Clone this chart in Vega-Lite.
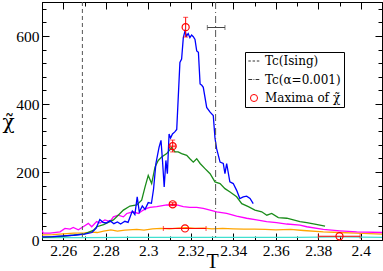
{
  "$schema": "https://vega.github.io/schema/vega-lite/v6.json",
  "width": 340,
  "height": 238,
  "autosize": {"type": "none"},
  "padding": {"left": 42, "top": 2, "right": 1, "bottom": 31},
  "background": "white",
  "config": {
    "view": {"stroke": "black", "strokeWidth": 1},
    "font": "Liberation Serif, DejaVu Serif, serif",
    "axis": {"domainColor": "black", "tickColor": "black", "labelColor": "black", "labelFont": "Liberation Serif, DejaVu Serif, serif", "labelFontSize": 15.5, "titleFont": "Liberation Serif, DejaVu Serif, serif", "titleFontWeight": "normal", "titleColor": "black", "grid": false},
    "legend": {"orient": "none", "legendX": 203, "legendY": 50, "fillColor": "white", "strokeColor": "black", "padding": 3, "labelFont": "DejaVu Serif", "labelFontSize": 12, "labelColor": "black", "labelOffset": 5, "rowPadding": 6.5, "symbolStrokeWidth": 1, "symbolSize": 50, "cornerRadius": 0}
  },
  "datasets": {
    "curves": [
      {"s":"c","T":2.25,"chi":7},{"s":"c","T":2.27,"chi":7},{"s":"c","T":2.29,"chi":8},{"s":"c","T":2.31,"chi":8},{"s":"c","T":2.33,"chi":8},{"s":"c","T":2.35,"chi":8},{"s":"c","T":2.37,"chi":8},{"s":"c","T":2.39,"chi":9},{"s":"c","T":2.41,"chi":8},
      {"s":"o","T":2.25,"chi":15},{"s":"o","T":2.255,"chi":16},{"s":"o","T":2.26,"chi":18},{"s":"o","T":2.265,"chi":20},{"s":"o","T":2.27,"chi":21},{"s":"o","T":2.2735,"chi":23},{"s":"o","T":2.276,"chi":22},{"s":"o","T":2.279,"chi":26},{"s":"o","T":2.2824,"chi":30},{"s":"o","T":2.2855,"chi":26},{"s":"o","T":2.289,"chi":29},{"s":"o","T":2.2946,"chi":31},{"s":"o","T":2.298,"chi":29},{"s":"o","T":2.302,"chi":33},{"s":"o","T":2.306,"chi":34},{"s":"o","T":2.31,"chi":33},{"s":"o","T":2.314,"chi":35},{"s":"o","T":2.318,"chi":36},{"s":"o","T":2.322,"chi":34},{"s":"o","T":2.326,"chi":35},{"s":"o","T":2.33,"chi":33},{"s":"o","T":2.335,"chi":34},{"s":"o","T":2.34,"chi":33},{"s":"o","T":2.345,"chi":32},{"s":"o","T":2.35,"chi":32},{"s":"o","T":2.355,"chi":31},{"s":"o","T":2.36,"chi":30},{"s":"o","T":2.367,"chi":31},{"s":"o","T":2.373,"chi":28},{"s":"o","T":2.3824,"chi":24},{"s":"o","T":2.39,"chi":22},{"s":"o","T":2.398,"chi":20},{"s":"o","T":2.41,"chi":17},
      {"s":"m","T":2.25,"chi":29},{"s":"m","T":2.2506,"chi":20},{"s":"m","T":2.2538,"chi":20},{"s":"m","T":2.2585,"chi":24},{"s":"m","T":2.2608,"chi":34},{"s":"m","T":2.2632,"chi":32},{"s":"m","T":2.2647,"chi":37},{"s":"m","T":2.2671,"chi":30},{"s":"m","T":2.2694,"chi":39},{"s":"m","T":2.2718,"chi":49},{"s":"m","T":2.2734,"chi":39},{"s":"m","T":2.2757,"chi":54},{"s":"m","T":2.2773,"chi":50},{"s":"m","T":2.2796,"chi":59},{"s":"m","T":2.282,"chi":54},{"s":"m","T":2.2836,"chi":68},{"s":"m","T":2.2859,"chi":73},{"s":"m","T":2.2883,"chi":68},{"s":"m","T":2.2899,"chi":78},{"s":"m","T":2.293,"chi":83},{"s":"m","T":2.2953,"chi":78},{"s":"m","T":2.2977,"chi":88},{"s":"m","T":2.2993,"chi":93},{"s":"m","T":2.3008,"chi":96},{"s":"m","T":2.304,"chi":98},{"s":"m","T":2.3087,"chi":103},{"s":"m","T":2.3134,"chi":103},{"s":"m","T":2.3165,"chi":98},{"s":"m","T":2.3196,"chi":96},{"s":"m","T":2.3228,"chi":96},{"s":"m","T":2.3259,"chi":93},{"s":"m","T":2.3291,"chi":88},{"s":"m","T":2.3322,"chi":83},{"s":"m","T":2.3369,"chi":78},{"s":"m","T":2.3416,"chi":70},{"s":"m","T":2.3463,"chi":64},{"s":"m","T":2.351,"chi":59},{"s":"m","T":2.3557,"chi":54},{"s":"m","T":2.3604,"chi":51},{"s":"m","T":2.3652,"chi":47},{"s":"m","T":2.3714,"chi":44},{"s":"m","T":2.3746,"chi":39},{"s":"m","T":2.3824,"chi":31},{"s":"m","T":2.3902,"chi":27},{"s":"m","T":2.3981,"chi":24},{"s":"m","T":2.41,"chi":22},
      {"s":"g","T":2.25,"chi":8},{"s":"g","T":2.26,"chi":11},{"s":"g","T":2.27,"chi":18},{"s":"g","T":2.2741,"chi":28},{"s":"g","T":2.2758,"chi":39},{"s":"g","T":2.279,"chi":45},{"s":"g","T":2.2836,"chi":59},{"s":"g","T":2.2867,"chi":78},{"s":"g","T":2.2883,"chi":88},{"s":"g","T":2.2914,"chi":100},{"s":"g","T":2.2946,"chi":103},{"s":"g","T":2.2969,"chi":117},{"s":"g","T":2.2985,"chi":156},{"s":"g","T":2.3,"chi":190},{"s":"g","T":2.3016,"chi":166},{"s":"g","T":2.3032,"chi":215},{"s":"g","T":2.3047,"chi":234},{"s":"g","T":2.3063,"chi":244},{"s":"g","T":2.3087,"chi":254},{"s":"g","T":2.311,"chi":272},{"s":"g","T":2.3126,"chi":259},{"s":"g","T":2.3141,"chi":259},{"s":"g","T":2.3157,"chi":254},{"s":"g","T":2.3181,"chi":249},{"s":"g","T":2.3196,"chi":239},{"s":"g","T":2.3212,"chi":229},{"s":"g","T":2.3228,"chi":239},{"s":"g","T":2.3244,"chi":225},{"s":"g","T":2.3267,"chi":210},{"s":"g","T":2.3291,"chi":195},{"s":"g","T":2.3314,"chi":171},{"s":"g","T":2.3338,"chi":166},{"s":"g","T":2.3361,"chi":151},{"s":"g","T":2.3385,"chi":141},{"s":"g","T":2.3416,"chi":127},{"s":"g","T":2.344,"chi":107},{"s":"g","T":2.3471,"chi":98},{"s":"g","T":2.3502,"chi":88},{"s":"g","T":2.3534,"chi":83},{"s":"g","T":2.3558,"chi":73},{"s":"g","T":2.3581,"chi":78},{"s":"g","T":2.3612,"chi":66},{"s":"g","T":2.3652,"chi":64},{"s":"g","T":2.3683,"chi":59},{"s":"g","T":2.3714,"chi":54},{"s":"g","T":2.3746,"chi":51},{"s":"g","T":2.379,"chi":46},{"s":"g","T":2.3832,"chi":41},
      {"s":"b","T":2.25,"chi":9},{"s":"b","T":2.255,"chi":10},{"s":"b","T":2.26,"chi":12},{"s":"b","T":2.265,"chi":14},{"s":"b","T":2.27,"chi":17},{"s":"b","T":2.2735,"chi":22},{"s":"b","T":2.2755,"chi":35},{"s":"b","T":2.2772,"chi":60},{"s":"b","T":2.2787,"chi":52},{"s":"b","T":2.2803,"chi":50},{"s":"b","T":2.282,"chi":57},{"s":"b","T":2.2838,"chi":48},{"s":"b","T":2.2855,"chi":53},{"s":"b","T":2.287,"chi":47},{"s":"b","T":2.289,"chi":55},{"s":"b","T":2.2905,"chi":52},{"s":"b","T":2.2925,"chi":85},{"s":"b","T":2.2937,"chi":75},{"s":"b","T":2.2948,"chi":127},{"s":"b","T":2.2958,"chi":82},{"s":"b","T":2.2972,"chi":100},{"s":"b","T":2.2985,"chi":90},{"s":"b","T":2.3,"chi":110},{"s":"b","T":2.3015,"chi":108},{"s":"b","T":2.3025,"chi":150},{"s":"b","T":2.3036,"chi":225},{"s":"b","T":2.3051,"chi":273},{"s":"b","T":2.306,"chi":293},{"s":"b","T":2.3067,"chi":234},{"s":"b","T":2.3075,"chi":156},{"s":"b","T":2.3083,"chi":234},{"s":"b","T":2.309,"chi":195},{"s":"b","T":2.3098,"chi":312},{"s":"b","T":2.3105,"chi":300},{"s":"b","T":2.3114,"chi":312},{"s":"b","T":2.3125,"chi":318},{"s":"b","T":2.3134,"chi":325},{"s":"b","T":2.3149,"chi":522},{"s":"b","T":2.3157,"chi":532},{"s":"b","T":2.3165,"chi":595},{"s":"b","T":2.3173,"chi":615},{"s":"b","T":2.318,"chi":600},{"s":"b","T":2.3188,"chi":607},{"s":"b","T":2.3196,"chi":595},{"s":"b","T":2.3204,"chi":603},{"s":"b","T":2.3212,"chi":598},{"s":"b","T":2.322,"chi":590},{"s":"b","T":2.3228,"chi":556},{"s":"b","T":2.3236,"chi":552},{"s":"b","T":2.3244,"chi":459},{"s":"b","T":2.3252,"chi":455},{"s":"b","T":2.3259,"chi":449},{"s":"b","T":2.3275,"chi":390},{"s":"b","T":2.3291,"chi":376},{"s":"b","T":2.3306,"chi":366},{"s":"b","T":2.3314,"chi":300},{"s":"b","T":2.3322,"chi":268},{"s":"b","T":2.3338,"chi":229},{"s":"b","T":2.3353,"chi":225},{"s":"b","T":2.3361,"chi":195},{"s":"b","T":2.3369,"chi":225},{"s":"b","T":2.3384,"chi":171},{"s":"b","T":2.34,"chi":166},{"s":"b","T":2.3416,"chi":146},{"s":"b","T":2.3431,"chi":122},{"s":"b","T":2.3447,"chi":127},{"s":"b","T":2.3463,"chi":129},{"s":"b","T":2.3479,"chi":122},{"s":"b","T":2.3494,"chi":107}
    ],
    "maxima": [
      {"T":2.3176,"chi":626,"lab":"Maxima of χ̃"},
      {"T":2.3115,"chi":276,"lab":"Maxima of χ̃"},
      {"T":2.3115,"chi":105,"lab":"Maxima of χ̃"},
      {"T":2.3173,"chi":34,"lab":"Maxima of χ̃"},
      {"T":2.39,"chi":11,"lab":"Maxima of χ̃"}
    ],
    "verr": [
      {"T":2.3176,"lo":597,"hi":655},
      {"T":2.3115,"lo":259,"hi":294},
      {"T":2.3115,"lo":101,"hi":110}
    ],
    "herr": [
      {"chi":276,"lo":2.3103,"hi":2.3127},
      {"chi":105,"lo":2.3100,"hi":2.3130},
      {"chi":34,"lo":2.3071,"hi":2.3272},
      {"chi":11,"lo":2.38,"hi":2.3997}
    ],
    "tcerr": [{"chi":625,"lo":2.3278,"hi":2.3361}],
    "vlines": [{"T":2.269,"k":"ising"},{"T":2.3317,"k":"alpha"}]
  },
  "layer": [
    {
      "data": {"name": "curves"},
      "mark": {"type": "line", "strokeWidth": 1.3, "clip": true},
      "encoding": {
        "x": {"field": "T", "type": "quantitative", "scale": {"domain": [2.25, 2.41], "nice": false, "zero": false},
          "axis": {"orient": "bottom", "values": [2.25,2.26,2.27,2.28,2.29,2.3,2.31,2.32,2.33,2.34,2.35,2.36,2.37,2.38,2.39,2.4,2.41],
            "labelExpr": "(round(datum.value*100) % 2 == 0 && datum.value > 2.255 && datum.value < 2.405) ? toString(round(datum.value*100)/100) : ''",
            "tickSize": {"condition": {"test": "round(datum.value*100) % 2 == 0", "value": -7}, "value": -4},
            "labelPadding": 10, "labelFlush": false, "title": "T", "titleFontSize": 20, "titleY": 27, "titleBaseline": "alphabetic"}},
        "y": {"field": "chi", "type": "quantitative", "scale": {"domain": [0, 700], "nice": false},
          "axis": {"orient": "left", "values": [0,40,80,120,160,200,240,280,320,360,400,440,480,520,560,600,640,680],
            "labelExpr": "datum.value % 200 == 0 ? toString(datum.value) : ''",
            "tickSize": {"condition": {"test": "datum.value % 200 == 0", "value": -7}, "value": -4},
            "labelPadding": 10, "labelFlush": false, "title": "χ̃", "titleFont": "DejaVu Serif", "titleAngle": 0, "titleX": -34, "titleY": 120, "titleAlign": "center", "titleBaseline": "middle", "titleFontSize": 20}},
        "color": {"field": "s", "type": "nominal", "scale": {"domain": ["c","o","m","g","b"], "range": ["#40e0d0","#ffa500","#ff00ff","#1a8c1a","#0000ff"]}, "legend": null}
      }
    },
    {
      "data": {"name": "vlines"},
      "mark": {"type": "rule", "color": "#555555", "strokeWidth": 1},
      "encoding": {
        "x": {"field": "T", "type": "quantitative", "axis": null},
        "strokeDash": {"field": "k", "type": "nominal", "scale": {"domain": ["ising","alpha"], "range": [[4,3],[7,3,1,3]]}, "legend": null}
      }
    },
    {
      "data": {"name": "tcerr"},
      "mark": {"type": "errorbar", "ticks": true, "color": "#444444"},
      "encoding": {
        "x": {"field": "lo", "type": "quantitative", "axis": null},
        "x2": {"field": "hi"},
        "y": {"field": "chi", "type": "quantitative", "axis": null}
      }
    },
    {
      "data": {"name": "verr"},
      "mark": {"type": "errorbar", "ticks": true, "color": "red"},
      "encoding": {
        "x": {"field": "T", "type": "quantitative", "axis": null},
        "y": {"field": "lo", "type": "quantitative", "axis": null},
        "y2": {"field": "hi"}
      }
    },
    {
      "data": {"name": "herr"},
      "mark": {"type": "errorbar", "ticks": true, "color": "red"},
      "encoding": {
        "x": {"field": "lo", "type": "quantitative", "axis": null},
        "x2": {"field": "hi"},
        "y": {"field": "chi", "type": "quantitative", "axis": null}
      }
    },
    {
      "data": {"name": "maxima"},
      "mark": {"type": "point", "filled": false, "size": 50, "strokeWidth": 1.2, "opacity": 1},
      "encoding": {
        "x": {"field": "T", "type": "quantitative",
          "axis": {"orient": "top", "values": [2.25,2.26,2.27,2.28,2.29,2.3,2.31,2.32,2.33,2.34,2.35,2.36,2.37,2.38,2.39,2.4,2.41], "labels": false, "title": null,
            "tickSize": {"condition": {"test": "round(datum.value*100) % 2 == 0", "value": -7}, "value": -4}}},
        "y": {"field": "chi", "type": "quantitative",
          "axis": {"orient": "right", "values": [0,40,80,120,160,200,240,280,320,360,400,440,480,520,560,600,640,680], "labels": false, "title": null,
            "tickSize": {"condition": {"test": "datum.value % 200 == 0", "value": -7}, "value": -4}}},
        "stroke": {"field": "lab", "type": "nominal", "scale": {"domain": ["Tc(Ising)", "Tc(α=0.001)", "Maxima of χ̃"], "range": ["#333333", "#333333", "#ff0000"]},
          "legend": {"title": null}},
        "shape": {"field": "lab", "type": "nominal", "scale": {"domain": ["Tc(Ising)", "Tc(α=0.001)", "Maxima of χ̃"], "range": ["M-1.6,0H-0.9M-0.4,0H0.3M0.8,0H1.5", "M-1.6,0H-0.5M-0.15,0H0.1M0.45,0H1.5", "circle"]},
          "legend": {"title": null}}
      }
    }
  ],
  "resolve": {"axis": {"x": "independent", "y": "independent"}}
}
